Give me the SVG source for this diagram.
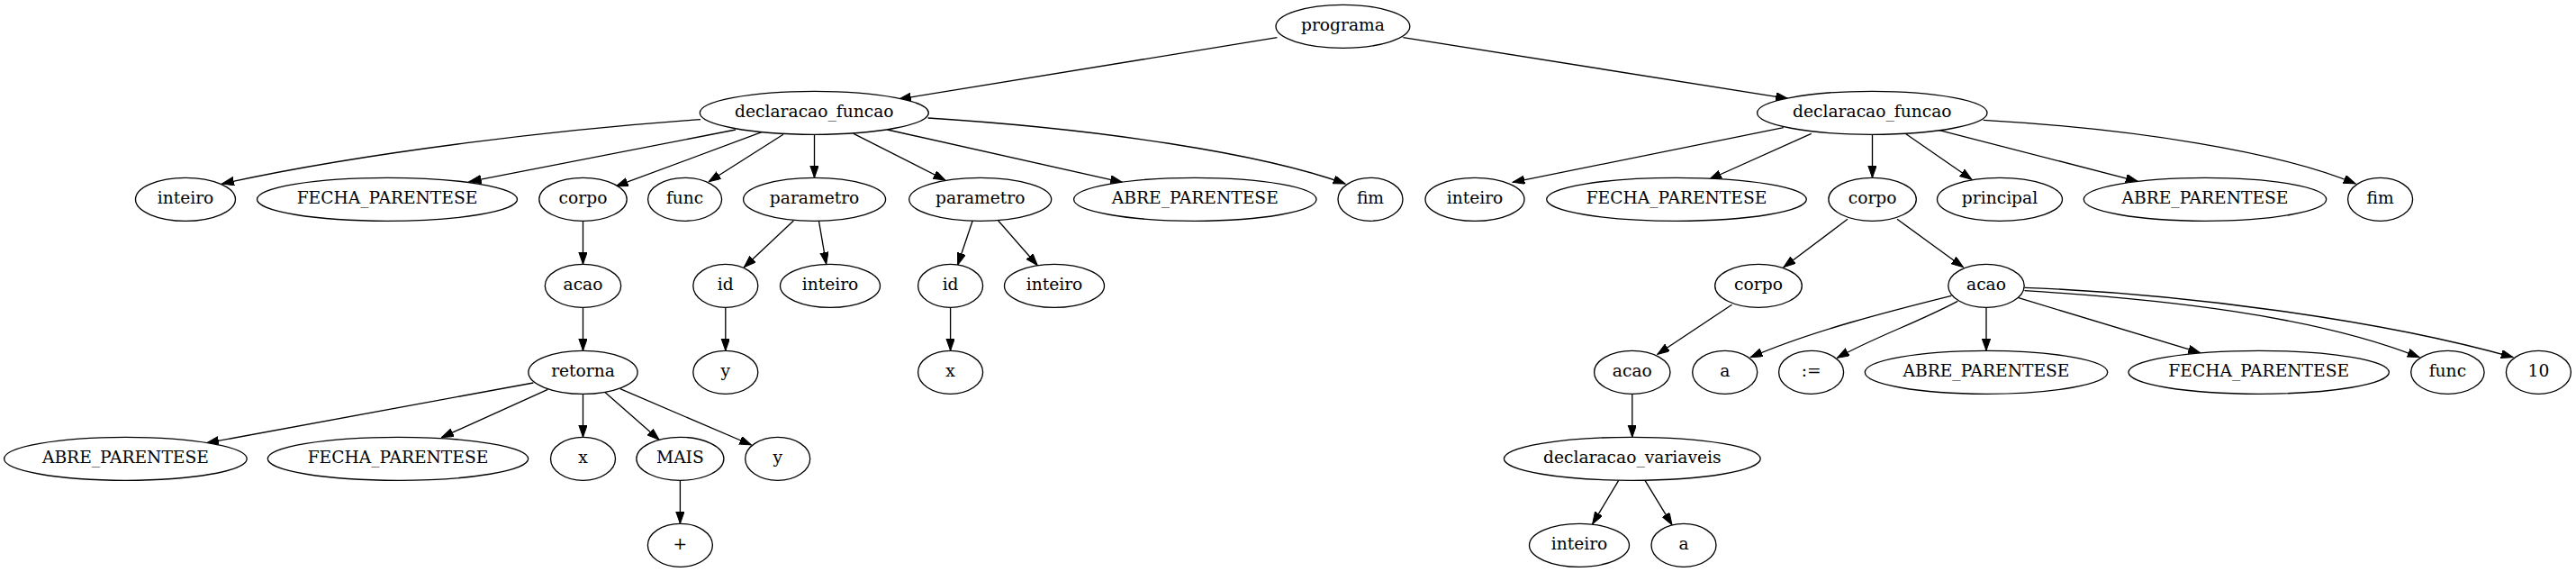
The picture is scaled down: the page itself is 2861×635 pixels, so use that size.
<svg xmlns="http://www.w3.org/2000/svg" width="2861" height="635" viewBox="0 0 2861 635">
<style>
.n ellipse{fill:#fff;stroke:#000;stroke-width:1.33}
.n text{font-family:"DejaVu Serif","Liberation Serif",serif;font-size:18.67px;text-anchor:middle;fill:#000}
#edges path{fill:none;stroke:#000;stroke-width:1.33;marker-end:url(#arr)}
</style>
<defs>
<marker id="arr" markerUnits="userSpaceOnUse" markerWidth="14" markerHeight="10" refX="13.3" refY="4.67" orient="auto">
<path d="M0,0 L13.3,4.67 L0,9.33 Z" fill="#000" stroke="#000" stroke-width="1"/>
</marker>
</defs>
<rect width="2861" height="635" fill="#fff"/>
<g id="edges">
<path d="M1418.4,41.7 L998.5,110"/>
<path d="M1558.4,41.7 L1985.4,109.3"/>
<path d="M778,132.7 C630,143 410,168 246.6,204"/>
<path d="M817,144 L521.2,201.7"/>
<path d="M846,146.7 L684.2,206.7"/>
<path d="M869.9,149.3 L787.2,201.7"/>
<path d="M904.5,149.3 L904.5,197.3"/>
<path d="M948,148.3 L1049.9,200"/>
<path d="M985.6,144 L1246.5,202.3"/>
<path d="M1030.6,131 C1220,143 1400,170 1494.1,204"/>
<path d="M1980.8,141.7 L1680.1,202.3"/>
<path d="M2011.7,148.3 L1898.7,199"/>
<path d="M2079.5,149.3 L2079.5,197.3"/>
<path d="M2114,146.7 L2190,199.3"/>
<path d="M2153,144.3 L2374.3,201.3"/>
<path d="M2202.7,133.3 C2370,143 2530,168 2616.2,204"/>
<path d="M881.4,245 L826.3,296.7"/>
<path d="M909.4,245 L917.7,293.3"/>
<path d="M1080.2,245 L1063.7,294"/>
<path d="M1108.7,245 L1152.3,294.7"/>
<path d="M647.5,245.3 L647.5,293.3"/>
<path d="M647.5,341.3 L647.5,389.3"/>
<path d="M592.4,425 L229.6,491.7"/>
<path d="M608.4,432.3 L490.4,485.7"/>
<path d="M647.5,437.3 L647.5,485.3"/>
<path d="M671.4,435 L732.1,488.3"/>
<path d="M688.8,431.7 L834.5,494"/>
<path d="M755.4,533.3 L755.4,581.3"/>
<path d="M805.8,341.3 L805.8,389.3"/>
<path d="M1055.6,341.3 L1055.6,389.3"/>
<path d="M2052,243.3 L1980.9,296.7"/>
<path d="M2107,243.3 L2180.5,296.7"/>
<path d="M1923.5,338.3 L1840.8,393.3"/>
<path d="M1812.8,437.3 L1812.8,485.3"/>
<path d="M1797.7,533.3 L1768.7,581.7"/>
<path d="M1827,533.3 L1857,582.7"/>
<path d="M2167.3,328.3 C2100,345 2010,368 1944.2,396.7"/>
<path d="M2174.3,334.3 C2130,358 2080,375 2040.5,397.3"/>
<path d="M2206,341.3 L2206,389.3"/>
<path d="M2241.9,330.7 L2443.7,391.7"/>
<path d="M2248.5,322.7 C2400,332 2570,350 2687.1,396.7"/>
<path d="M2248.5,319.3 C2420,326 2640,354 2791.1,396.7"/>
</g>
<g id="n_programa" class="n"><ellipse cx="1491.4" cy="29.3" rx="74.4" ry="24"/><text x="1491.4" y="34.3">programa</text></g>
<g id="n_df1" class="n"><ellipse cx="904.3" cy="125.3" rx="127" ry="24"/><text x="904.3" y="130.3">declaracao_funcao</text></g>
<g id="n_df2" class="n"><ellipse cx="2079.3" cy="125.3" rx="127.7" ry="24"/><text x="2079.3" y="130.3">declaracao_funcao</text></g>
<g id="n_inteiro1" class="n"><ellipse cx="206" cy="221.3" rx="55.5" ry="24"/><text x="206" y="226.3">inteiro</text></g>
<g id="n_fecha1" class="n"><ellipse cx="430" cy="221.3" rx="144.5" ry="24"/><text x="430" y="226.3">FECHA_PARENTESE</text></g>
<g id="n_corpo1" class="n"><ellipse cx="647.5" cy="221.3" rx="48.7" ry="24"/><text x="647.5" y="226.3">corpo</text></g>
<g id="n_func1" class="n"><ellipse cx="760.6" cy="221.3" rx="41" ry="24"/><text x="760.6" y="226.3">func</text></g>
<g id="n_param1" class="n"><ellipse cx="904.6" cy="221.3" rx="79" ry="24"/><text x="904.6" y="226.3">parametro</text></g>
<g id="n_param2" class="n"><ellipse cx="1088.7" cy="221.3" rx="79" ry="24"/><text x="1088.7" y="226.3">parametro</text></g>
<g id="n_abre1" class="n"><ellipse cx="1327.3" cy="221.3" rx="134.7" ry="24"/><text x="1327.3" y="226.3">ABRE_PARENTESE</text></g>
<g id="n_fim1" class="n"><ellipse cx="1522" cy="221.3" rx="36" ry="24"/><text x="1522" y="226.3">fim</text></g>
<g id="n_inteiro2" class="n"><ellipse cx="1638" cy="221.3" rx="55" ry="24"/><text x="1638" y="226.3">inteiro</text></g>
<g id="n_fecha2" class="n"><ellipse cx="1862" cy="221.3" rx="144.3" ry="24"/><text x="1862" y="226.3">FECHA_PARENTESE</text></g>
<g id="n_corpo2" class="n"><ellipse cx="2079.6" cy="221.3" rx="48.7" ry="24"/><text x="2079.6" y="226.3">corpo</text></g>
<g id="n_principal" class="n"><ellipse cx="2221" cy="221.3" rx="69.5" ry="24"/><text x="2221" y="226.3">principal</text></g>
<g id="n_abre2" class="n"><ellipse cx="2449" cy="221.3" rx="134.7" ry="24"/><text x="2449" y="226.3">ABRE_PARENTESE</text></g>
<g id="n_fim2" class="n"><ellipse cx="2643.6" cy="221.3" rx="36" ry="24"/><text x="2643.6" y="226.3">fim</text></g>
<g id="n_acao1" class="n"><ellipse cx="647.5" cy="317.3" rx="42.2" ry="24"/><text x="647.5" y="322.3">acao</text></g>
<g id="n_id1" class="n"><ellipse cx="805.8" cy="317.3" rx="36" ry="24"/><text x="805.8" y="322.3">id</text></g>
<g id="n_inteiro3" class="n"><ellipse cx="922" cy="317.3" rx="55.5" ry="24"/><text x="922" y="322.3">inteiro</text></g>
<g id="n_id2" class="n"><ellipse cx="1055.6" cy="317.3" rx="36" ry="24"/><text x="1055.6" y="322.3">id</text></g>
<g id="n_inteiro4" class="n"><ellipse cx="1171" cy="317.3" rx="55.5" ry="24"/><text x="1171" y="322.3">inteiro</text></g>
<g id="n_corpo3" class="n"><ellipse cx="1953" cy="317.3" rx="48.3" ry="24"/><text x="1953" y="322.3">corpo</text></g>
<g id="n_acao2" class="n"><ellipse cx="2206" cy="317.3" rx="42.2" ry="24"/><text x="2206" y="322.3">acao</text></g>
<g id="n_retorna" class="n"><ellipse cx="647.5" cy="413.3" rx="60.6" ry="24"/><text x="647.5" y="418.3">retorna</text></g>
<g id="n_y1" class="n"><ellipse cx="805.8" cy="413.3" rx="36" ry="24"/><text x="805.8" y="418.3">y</text></g>
<g id="n_x1" class="n"><ellipse cx="1055.6" cy="413.3" rx="36" ry="24"/><text x="1055.6" y="418.3">x</text></g>
<g id="n_acao3" class="n"><ellipse cx="1812.8" cy="413.3" rx="42.2" ry="24"/><text x="1812.8" y="418.3">acao</text></g>
<g id="n_a1" class="n"><ellipse cx="1915.7" cy="413.3" rx="36" ry="24"/><text x="1915.7" y="418.3">a</text></g>
<g id="n_assign" class="n"><ellipse cx="2011.6" cy="413.3" rx="36" ry="24"/><text x="2011.6" y="418.3">:=</text></g>
<g id="n_abre3" class="n"><ellipse cx="2206" cy="413.3" rx="134.7" ry="24"/><text x="2206" y="418.3">ABRE_PARENTESE</text></g>
<g id="n_fecha3" class="n"><ellipse cx="2508.7" cy="413.3" rx="144.7" ry="24"/><text x="2508.7" y="418.3">FECHA_PARENTESE</text></g>
<g id="n_func2" class="n"><ellipse cx="2718.4" cy="413.3" rx="40.7" ry="24"/><text x="2718.4" y="418.3">func</text></g>
<g id="n_10" class="n"><ellipse cx="2819.4" cy="413.3" rx="36" ry="24"/><text x="2819.4" y="418.3">10</text></g>
<g id="n_abre4" class="n"><ellipse cx="139.4" cy="509.3" rx="134.8" ry="24"/><text x="139.4" y="514.3">ABRE_PARENTESE</text></g>
<g id="n_fecha4" class="n"><ellipse cx="442" cy="509.3" rx="144.7" ry="24"/><text x="442" y="514.3">FECHA_PARENTESE</text></g>
<g id="n_x2" class="n"><ellipse cx="647.5" cy="509.3" rx="36" ry="24"/><text x="647.5" y="514.3">x</text></g>
<g id="n_mais" class="n"><ellipse cx="755.4" cy="509.3" rx="48.5" ry="24"/><text x="755.4" y="514.3">MAIS</text></g>
<g id="n_y2" class="n"><ellipse cx="863.7" cy="509.3" rx="36" ry="24"/><text x="863.7" y="514.3">y</text></g>
<g id="n_declvar" class="n"><ellipse cx="1812.8" cy="509.3" rx="142.4" ry="24"/><text x="1812.8" y="514.3">declaracao_variaveis</text></g>
<g id="n_plus" class="n"><ellipse cx="755.4" cy="605.3" rx="36" ry="24"/><text x="755.4" y="610.3">+</text></g>
<g id="n_inteiro5" class="n"><ellipse cx="1754" cy="605.3" rx="55.5" ry="24"/><text x="1754" y="610.3">inteiro</text></g>
<g id="n_a2" class="n"><ellipse cx="1870" cy="605.3" rx="36" ry="24"/><text x="1870" y="610.3">a</text></g>
</svg>
